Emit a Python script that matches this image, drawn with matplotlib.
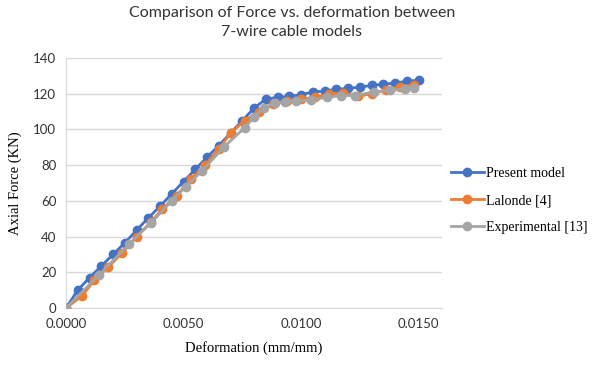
import numpy as np
import matplotlib.pyplot as plt

# Present model
x_present = [0, 0.0005, 0.001, 0.0015, 0.002, 0.0025, 0.003, 0.0035, 0.004, 0.0045,
             0.005, 0.0055, 0.006, 0.0065, 0.007, 0.0075, 0.008, 0.0085, 0.009, 0.0095,
             0.010, 0.0105, 0.011, 0.0115, 0.012, 0.0125, 0.013, 0.0135, 0.014, 0.0145, 0.015]
y_present = [0, 10, 17, 23.5, 30, 36.5, 43.5, 50.5, 57, 64,
             70.8, 77.7, 84.5, 91, 98, 105, 112, 117, 118, 118.5,
             119.5, 121, 121.5, 122.5, 123, 123.7, 124.7, 125.3, 126, 127, 127.6]

# Lalonde [4]
x_lalonde = [0, 0.0007, 0.0012, 0.0018, 0.0024, 0.003, 0.0036, 0.0041, 0.0047, 0.0053,
             0.0059, 0.0065, 0.007, 0.0076, 0.0082, 0.0088, 0.0094, 0.010, 0.0106, 0.0112,
             0.0118, 0.0124, 0.013, 0.0136, 0.0142, 0.0148]
y_lalonde = [0, 7, 15.5, 23, 31, 40, 48, 55.5, 63, 72,
             80, 89, 98, 105, 110, 114, 116, 117, 118, 120,
             120.5, 118.5, 120, 122, 124, 125]

# Experimental [13]
x_exp = [0, 0.0014, 0.0027, 0.0036, 0.0045, 0.0051, 0.0058, 0.0067, 0.0076, 0.008,
         0.0084, 0.0089, 0.0093, 0.0098, 0.0104, 0.0111, 0.0117, 0.0123, 0.0131, 0.0138,
         0.0144, 0.0148]
y_exp = [0, 18.5, 36, 47.5, 60, 68, 77, 90, 101, 107,
         112, 115, 115.5, 116, 116.5, 118, 119, 119, 121, 122,
         122.6, 123]

fig = plt.figure(figsize=(5.92, 3.72), dpi=100)
ax = fig.add_axes([0.1115, 0.172, 0.6355, 0.672])

ax.plot(x_present, y_present, '-o', color='#4472C4', lw=2, ms=6, label='Present model', zorder=3)
ax.plot(x_lalonde, y_lalonde, '-o', color='#ED7D31', lw=2, ms=6, label='Lalonde [4]', zorder=4)
ax.plot(x_exp, y_exp, '-o', color='#A5A5A5', lw=2, ms=6, label='Experimental [13]', zorder=5)

ax.set_xlim(0, 0.016)
ax.set_ylim(0, 140)
ax.set_xticks([0, 0.005, 0.010, 0.015])
ax.set_xticklabels(['0.0000', '0.0050', '0.0100', '0.0150'])
ax.set_yticks(np.arange(0, 141, 20))
ax.grid(axis='y', color='#D9D9D9', lw=1)
ax.set_axisbelow(True)
for s in ['top', 'right']:
    ax.spines[s].set_visible(False)
for s in ['left', 'bottom']:
    ax.spines[s].set_color('#D9D9D9')
ax.tick_params(length=0, labelsize=9.5, colors='#333333', pad=7)
for lab in ax.get_xticklabels() + ax.get_yticklabels():
    lab.set_family('Lato')

ax.set_xlabel('Deformation (mm/mm)', family='Liberation Serif', fontsize=10.5, labelpad=8)
ax.set_ylabel('Axial Force (KN)', family='Liberation Serif', fontsize=10.5, labelpad=8)
fig.suptitle('Comparison of Force vs. deformation between\n7-wire cable models',
             family='Lato', fontsize=11.5, color='#333333', x=0.493, y=0.985,
             linespacing=1.5)

ax.legend(loc='center left', bbox_to_anchor=(1.0, 0.43), frameon=False,
          prop={'family': 'Liberation Serif', 'size': 10}, handlelength=2.4,
          handletextpad=0.15, labelspacing=1.0, borderaxespad=0.2)

fig.savefig('out.png', dpi=100)
